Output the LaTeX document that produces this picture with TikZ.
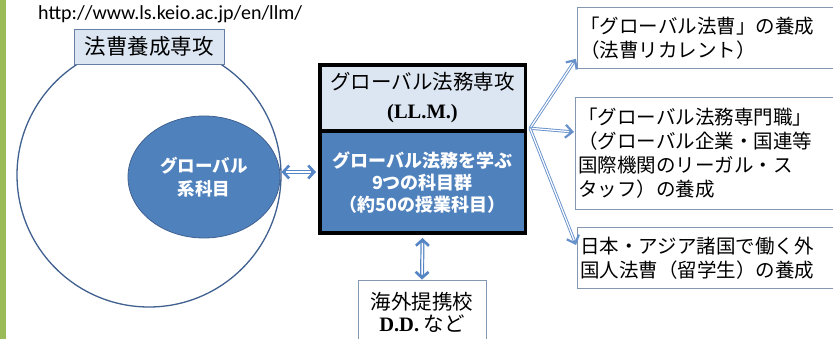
\documentclass[tikz,border=0pt]{standalone}
\usepackage{fontspec}
\setmainfont{Liberation Serif}
\newfontfamily\jp{Noto Sans CJK JP}
\newfontfamily\linkfont{Carlito}
\usetikzlibrary{arrows.meta,shapes.geometric,calc}
\definecolor{greenbar}{HTML}{9BBB59}
\definecolor{accent}{HTML}{4F81BD}
\definecolor{pale}{HTML}{DCE6F2}
\definecolor{ring}{HTML}{40608F}
\definecolor{boxline}{HTML}{8497B0}
\definecolor{arrowblue}{HTML}{5585C5}
\tikzset{
  target/.style={draw=boxline, fill=white, line width=0.8pt, anchor=north west,
    align=left, text width=262pt, inner xsep=3pt,
    font=\jp\fontsize{19.5}{24}\selectfont},
  thinarrow/.style={draw=arrowblue!90, line width=3pt,
    -{Straight Barb[length=7pt,width=13pt,line width=2.2pt]},
    postaction={draw=white, line width=1.2pt, -, shorten >=5pt, shorten <=0.5pt}},
  bigarrow/.style={draw=arrowblue, line width=4pt,
    {Straight Barb[length=6pt,width=13pt,line width=2.6pt]}-{Straight Barb[length=6pt,width=13pt,line width=2.6pt]},
    postaction={draw=white, line width=1.6pt, -, shorten >=5pt, shorten <=5pt}},
  mainpart/.style={draw=black, line width=3.5pt, minimum width=205.5pt, align=center}
}
\begin{document}
\begin{tikzpicture}[x=1pt,y=-1pt]
\useasboundingbox (0,0) rectangle (833,339);
\clip (0,0) rectangle (833,339);
\fill[white] (0,0) rectangle (833,339);
\fill[greenbar] (0,0) rectangle (6,339);

\node[font=\linkfont\fontsize{20}{22}\selectfont, anchor=west, inner sep=0pt] (url) at (38,14) {http://www.ls.keio.ac.jp/en/llm/};

\node[circle, draw=ring, line width=1.3pt, minimum size=264pt, inner sep=0pt] (circ) at (149,175) {};
\node[draw=ring!80, fill=pale, line width=0.8pt, minimum width=150pt, minimum height=35pt,
  font=\jp\fontsize{21.5}{24}\selectfont] (title) at (149,46.5) {法曹養成専攻};
\node[ellipse, draw=ring, fill=accent, line width=0.8pt, minimum width=152pt, minimum height=122pt,
  text=white, align=center, font=\jp\bfseries\fontsize{17.5}{23}\selectfont] (glob) at (204,177) {グローバル\\系科目};

\node[mainpart, fill=pale, minimum height=66.25pt, font=\jp\fontsize{20.5}{29}\selectfont]
  (llm) at (422.5,97.9) {グローバル法務専攻\\{\rmfamily\bfseries\fontsize{20.5}{29}\selectfont (LL.M.)}};
\node[mainpart, fill=accent, minimum height=102.25pt, text=white, font=\jp\bfseries\fontsize{18}{22}\selectfont]
  (courses) at (422.5,182.1) {グローバル法務を学ぶ\\9つの科目群\\（約50の授業科目）};

\node[draw=boxline, fill=white, line width=0.8pt, minimum width=128pt, minimum height=64pt,
  align=center, font=\jp\fontsize{20.5}{22}\selectfont] (partner) at (422,312) {海外提携校\\{\rmfamily\bfseries D.D.} など};

\node[target, minimum height=61pt] (r1) at (577,7) {「グローバル法曹」の養成\\（法曹リカレント）};
\node[target, minimum height=112pt] (r2) at (575,97) {「グローバル法務専門職」\\（グローバル企業・国連等\\国際機関のリーガル・ス\\タッフ）の養成};
\node[target, minimum height=61pt] (r3) at (577,227) {日本・アジア諸国で働く外\\国人法曹（留学生）の養成};

\draw[bigarrow] ($(glob.east)+(1,-5)$) -- ($(glob.east -| courses.west)+(-2,-5)$);
\draw[bigarrow] ($(courses.south)+(0,3)$) -- (partner.north);

\coordinate (hub) at ($(courses.north east)+(3,-1)$);
\draw[thinarrow] (hub) -- ($(r1.south west)+(-1,-10)$);
\draw[thinarrow] (hub) -- ($(r2.north west)+(-1,35)$);
\draw[thinarrow] (hub) -- ($(r3.north west)+(-1,18)$);
\end{tikzpicture}
\end{document}
